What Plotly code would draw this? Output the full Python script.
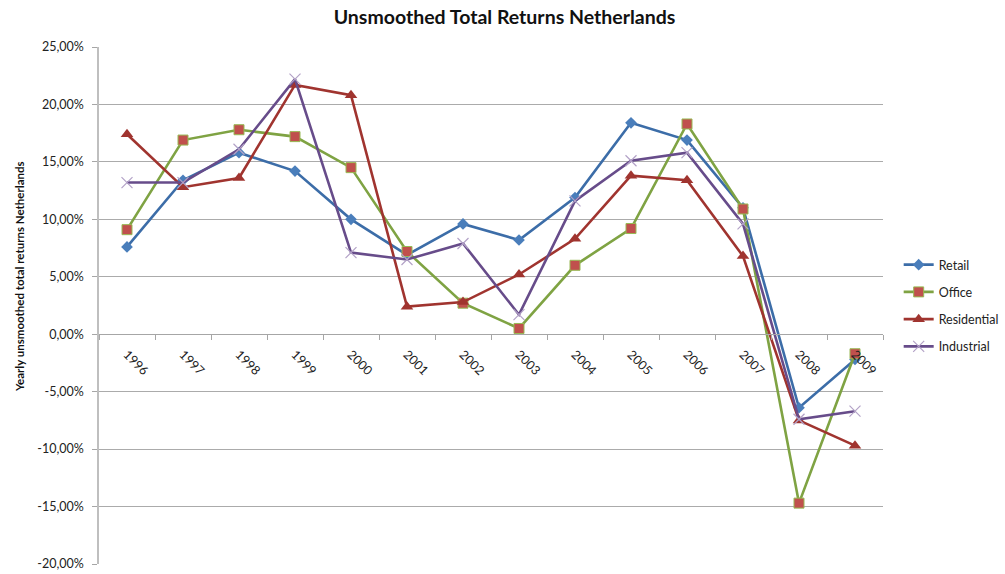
import plotly.graph_objects as go

# Yearly unsmoothed total returns (%) per property sector
years = ["1996", "1997", "1998", "1999", "2000", "2001", "2002",
         "2003", "2004", "2005", "2006", "2007", "2008", "2009"]
retail = [7.6, 13.4, 15.8, 14.2, 10.0, 6.9, 9.6, 8.2, 11.9, 18.4, 16.9, 11.0, -6.4, -2.2]
office = [9.1, 16.9, 17.8, 17.2, 14.5, 7.2, 2.7, 0.5, 6.0, 9.2, 18.3, 10.9, -14.7, -1.7]
residential = [17.4, 12.8, 13.6, 21.7, 20.8, 2.4, 2.8, 5.2, 8.3, 13.8, 13.4, 6.8, -7.5, -9.7]
industrial = [13.2, 13.2, 16.1, 22.2, 7.1, 6.5, 7.9, 1.7, 11.6, 15.1, 15.8, 9.6, -7.4, -6.7]

y_ticks = [25, 20, 15, 10, 5, 0, -5, -10, -15, -20]
y_tick_text = [f"{v:.2f}".replace(".", ",") + "%" for v in y_ticks]

font_family = "Lato, 'Open Sans', sans-serif"

fig = go.Figure()

series = [
    ("Retail", retail, dict(color="#3C6DA8", width=2.6),
     dict(symbol="diamond", size=9, color="#4A7EBB", line=dict(width=0))),
    ("Office", office, dict(color="#7FA343", width=2.6),
     dict(symbol="square", size=10, color="#C0504D", line=dict(color="#98B954", width=1))),
    ("Residential", residential, dict(color="#A0342F", width=2.6),
     dict(symbol="triangle-up", size=11, color="#A0342F", line=dict(width=0))),
    ("Industrial", industrial, dict(color="#674C8A", width=2.6),
     dict(symbol="x-thin", size=11, color="#B3A2C7", line=dict(color="#B3A2C7", width=1.2))),
]

for name, vals, line, marker in series:
    fig.add_trace(go.Scatter(
        x=years, y=vals, name=name, mode="lines+markers",
        line=line, marker=marker, legendgroup=name,
    ))

fig.update_layout(
    width=1005, height=574,
    margin=dict(l=99, r=122, t=47, b=10, autoexpand=False),
    paper_bgcolor="white", plot_bgcolor="white",
    font=dict(family=font_family, size=12, color="#222222"),
    title=dict(
        text="<b>Unsmoothed Total Returns Netherlands</b>",
        x=0.502, xref="container", y=0.97, yanchor="middle",
        font=dict(size=19.5, color="#111111"),
    ),
    legend=dict(
        x=1.02, xanchor="left", y=0.5, yanchor="middle",
        font=dict(size=12.5), tracegroupgap=8, traceorder="grouped",
        bgcolor="rgba(0,0,0,0)",
    ),
    showlegend=True,
)

# Vertical axis title, placed as a rotated annotation left of the tick labels
fig.add_annotation(
    text="<b>Yearly unsmoothed total returns Netherlands</b>",
    xref="paper", yref="paper", x=-0.102, y=0.555,
    xanchor="center", yanchor="middle", textangle=-90,
    showarrow=False, font=dict(size=11.5, color="#111111"),
)

fig.update_xaxes(
    type="category",
    anchor="free", position=20 / 45,
    showline=True, linecolor="#A6A6A6", linewidth=1,
    ticks="outside", ticklen=5, tickcolor="#A6A6A6",
    tickson="boundaries",
    tickangle=45, ticklabelstandoff=7,
    tickfont=dict(size=12.5, color="#222222"),
    showgrid=False, zeroline=False, automargin=False,
    range=[-0.5, len(years) - 0.5],
)

fig.update_yaxes(
    range=[-20, 25],
    tickvals=y_ticks, ticktext=y_tick_text,
    ticks="outside", ticklen=5, tickcolor="#A6A6A6",
    ticklabelstandoff=6,
    showline=True, linecolor="#BFBFBF", linewidth=1.5,
    showgrid=True, gridcolor="#ABABAB", gridwidth=1,
    zeroline=False, automargin=False,
    tickfont=dict(size=12.5, color="#222222"),
)

fig.write_html("out.html")
